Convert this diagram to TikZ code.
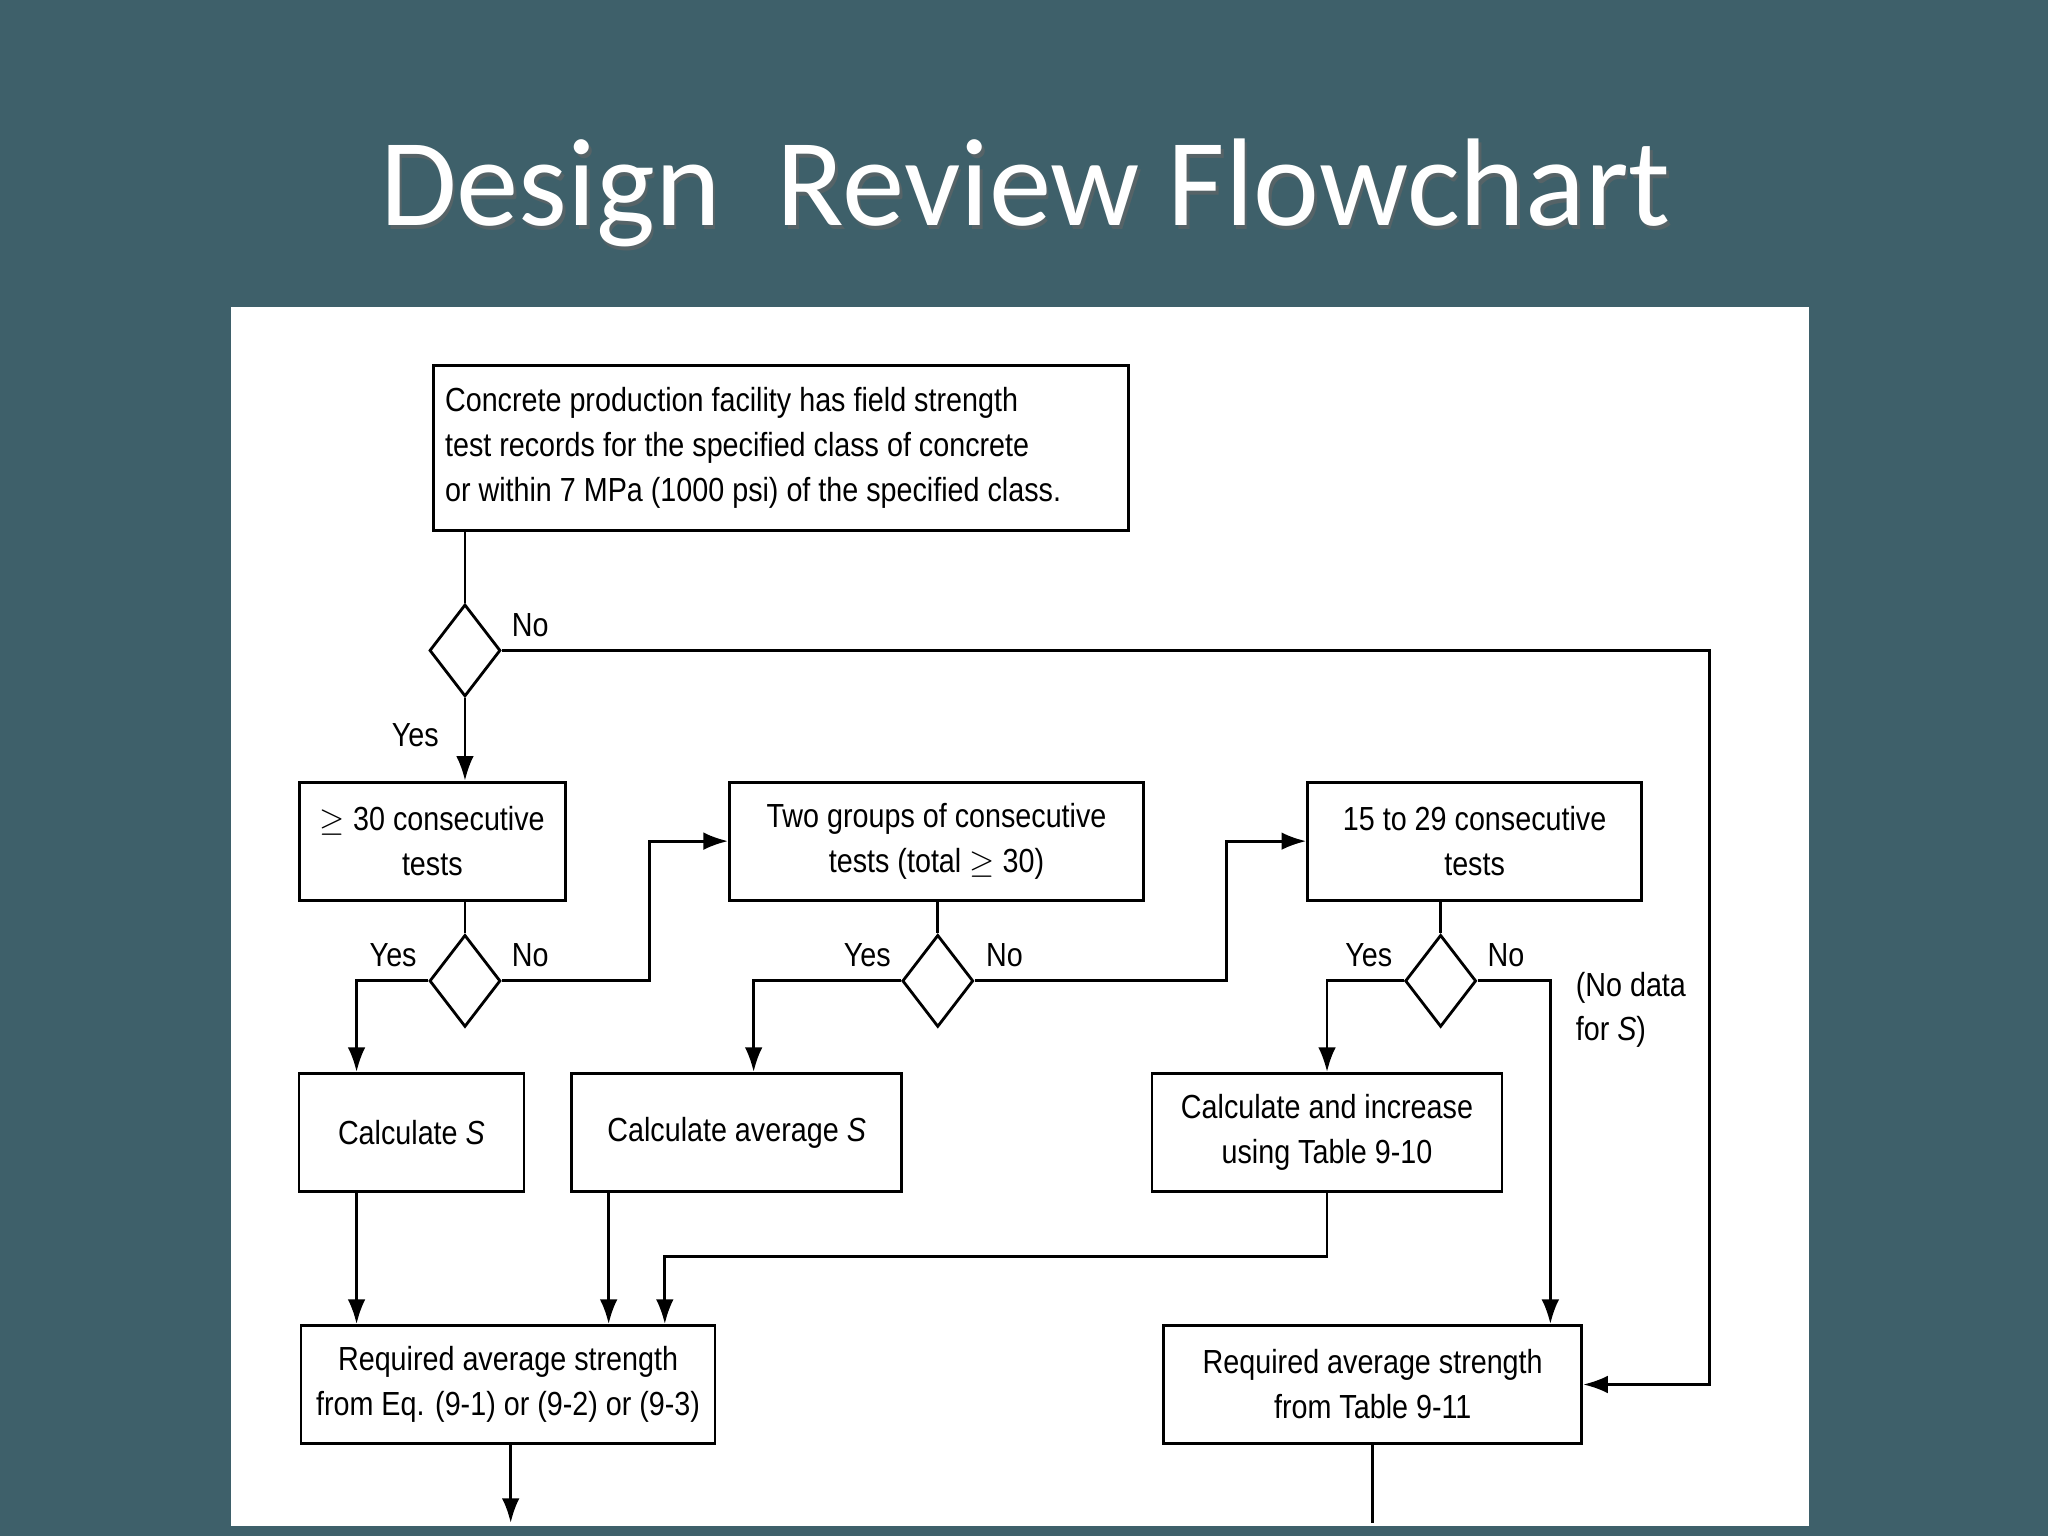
\documentclass[tikz,border=0pt]{standalone}
\usepackage{fontspec}
\setmainfont{Liberation Sans}[FakeStretch=0.86]
\newfontfamily\titlefont{Carlito}
\usetikzlibrary{positioning, arrows.meta, shapes.geometric}
\definecolor{SlideColor}{RGB}{62,96,106}
\tikzset{
  box/.style = {draw, thick, minimum height=1.18cm, inner sep=2pt, align=center, font=\fontsize{9.5}{12.8}\selectfont},
  test/.style = {draw, thick, diamond, minimum width=0.71cm, minimum height=0.92cm, inner sep=0pt},
  lab/.style = {font=\fontsize{9.5}{12.5}\selectfont},
  line/.style = {thick},
  arrow/.style = {thick, -{Latex[length=7pt,width=5pt]}}
}
\begin{document}
\begin{tikzpicture}[x=0.013061cm, y=-0.013061cm]
  \fill[SlideColor] (0,0) rectangle (1568,1176);
  \fill[white] (177,235) rectangle (1385,1168);
  \node[text=black!60, opacity=0.6, font=\titlefont\fontsize{35.5}{40}\selectfont] at (787,151) {Design~~Review Flowchart};
  \node[text=white, font=\titlefont\fontsize{35.5}{40}\selectfont] (title) at (785,148) {Design~~Review Flowchart};

  % boxes
  \node[box, minimum width=6.95cm, minimum height=1.65cm, align=flush left, text width=6.72cm] (records) at (598,343)
    {Concrete production facility has field strength\\test records for the specified class of concrete\\or within 7 MPa (1000 psi) of the specified class.};
  \node[box, minimum width=2.66cm] (thirty) at (331,644) {$\geq$ 30 consecutive\\tests};
  \node[box, minimum width=4.14cm] (groups) at (717,644) {Two groups of consecutive\\tests (total $\geq$ 30)};
  \node[box, minimum width=3.34cm] (fifteen) at (1129,644) {15 to 29 consecutive\\tests};
  \node[box, minimum width=2.25cm] (calcS) at (315,867) {Calculate \emph{S}};
  \node[box, minimum width=3.30cm] (avgS) at (564,867) {Calculate average \emph{S}};
  \node[box, minimum width=3.50cm] (incr) at (1016,867) {Calculate and increase\\using Table 9-10};
  \node[box, minimum width=4.14cm] (reqeq) at (389,1060) {Required average strength\\from Eq. (9-1) or (9-2) or (9-3)};
  \node[box, minimum width=4.18cm] (reqtab) at (1051,1060) {Required average strength\\from Table 9-11};

  % decisions
  \node[test] (d1) at (356,498) {};
  \node[test] (d2) at (356,751) {};
  \node[test] (d3) at (718,751) {};
  \node[test] (d4) at (1103,751) {};

  % bends and free ends
  \coordinate (c1) at (1309,498);
  \coordinate (c2) at (273,751);
  \coordinate (c3) at (497,751);
  \coordinate (c4) at (577,751);
  \coordinate (c5) at (939,751);
  \coordinate (c6) at (1016,751);
  \coordinate (c7) at (1187,751);
  \coordinate (c8) at (509,962);
  \coordinate (out1) at (391,1166);
  \coordinate (out2) at (1051,1166);

  % connectors
  \draw[line] (records.south -| d1) -- (d1.north);
  \draw[arrow] (d1.east) -- (c1) |- (reqtab.east);
  \draw[arrow] (d1.south) -- (thirty.north -| d1);
  \draw[line] (thirty.south -| d2) -- (d2.north);
  \draw[arrow] (d2.west) -- (c2) -- (calcS.north -| c2);
  \draw[arrow] (d2.east) -- (c3) |- (groups.west);
  \draw[line] (groups.south -| d3) -- (d3.north);
  \draw[arrow] (d3.west) -- (c4) -- (avgS.north -| c4);
  \draw[arrow] (d3.east) -- (c5) |- (fifteen.west);
  \draw[line] (fifteen.south -| d4) -- (d4.north);
  \draw[arrow] (d4.west) -- (c6) -- (incr.north -| c6);
  \draw[arrow] (d4.east) -- (c7) -- (reqtab.north -| c7);
  \draw[arrow] (calcS.south -| c2) -- (reqeq.north -| c2);
  \draw[arrow] (avgS.south -| 466,0) -- (reqeq.north -| 466,0);
  \draw[arrow] (incr.south) -- (incr.south |- c8) -- (c8) -- (reqeq.north -| c8);
  \draw[arrow] (reqeq.south -| out1) -- (out1);
  \draw[line] (reqtab.south) -- (out2);

  % labels
  \node[lab] at (406,479) {No};
  \node[lab] at (318,563) {Yes};
  \node[lab] at (301,731) {Yes};
  \node[lab] at (406,731) {No};
  \node[lab] at (664,731) {Yes};
  \node[lab] at (769,731) {No};
  \node[lab] at (1048,731) {Yes};
  \node[lab] at (1153,731) {No};
  \node[lab, align=left, anchor=north west] at (1197,735) {(No data\\for \emph{S})};
\end{tikzpicture}
\end{document}
